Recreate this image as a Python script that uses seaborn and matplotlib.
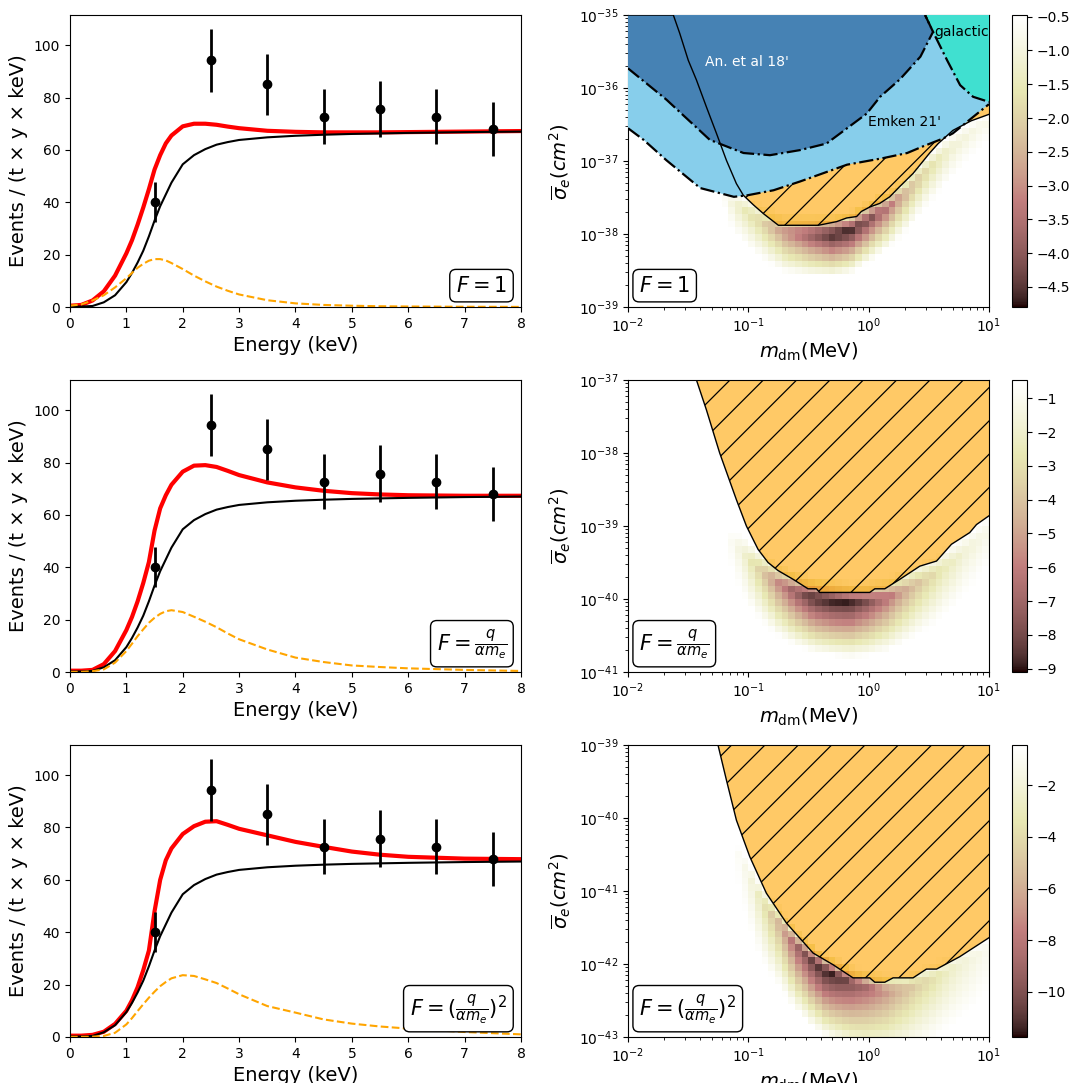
import numpy as np
import matplotlib
matplotlib.use("Agg")
import matplotlib.pyplot as plt
from matplotlib.colors import Normalize
from matplotlib.lines import Line2D
import seaborn as sns

# ---------------- left column: spectra ----------------
energy = [0.0, 0.2, 0.4, 0.6, 0.8, 1.0, 1.1, 1.2, 1.3, 1.4, 1.5, 1.6, 1.7, 1.8,
          2.0, 2.2, 2.4, 2.6, 2.8, 3.0, 3.5, 4.0, 4.5, 5.0, 5.5, 6.0, 7.0, 8.0]
background = [0.2, 0.2, 0.4, 1.8, 4.5, 9.5, 13.0, 17.0, 21.5, 27.0, 33.0, 38.5, 43.0, 47.5,
              54.5, 58.0, 60.3, 62.0, 63.0, 63.8, 64.8, 65.4, 65.8, 66.1, 66.3, 66.5, 66.8, 67.0]

signal_f1 = [0.5, 1.0, 2.5, 4.5, 7.5, 11.0, 13.0, 15.0, 16.5, 17.7, 18.3, 18.3, 17.8, 16.8,
             14.5, 12.0, 9.8, 7.8, 6.2, 4.8, 2.6, 1.4, 0.8, 0.5, 0.3, 0.2, 0.1, 0.05]
total_f1 = [0.5, 0.8, 2.5, 6.0, 12.0, 20.5, 25.5, 31.5, 38.0, 45.0, 52.5, 58.0, 62.5, 65.5,
            69.0, 70.0, 70.0, 69.6, 68.9, 68.3, 67.3, 66.9, 66.7, 66.7, 66.7, 66.8, 67.0, 67.2]

signal_f2 = [0.05, 0.05, 0.3, 1.0, 3.6, 8.0, 10.8, 13.7, 16.3, 18.8, 20.7, 22.2, 23.2, 23.6,
             22.9, 21.1, 19.2, 17.1, 14.7, 12.5, 8.6, 5.5, 3.8, 2.5, 1.9, 1.4, 0.8, 0.4]
total_f2 = [0.5, 0.5, 0.8, 3.0, 8.0, 16.0, 21.0, 27.0, 34.0, 42.0, 54.0, 62.5, 67.5, 71.5,
            76.5, 78.8, 79.0, 78.3, 76.8, 75.2, 72.4, 70.5, 69.2, 68.3, 67.8, 67.5, 67.3, 67.3]

signal_f3 = [0.05, 0.05, 0.1, 0.4, 1.6, 4.8, 7.2, 9.9, 12.5, 15.0, 17.3, 19.4, 21.0, 22.4,
             23.6, 23.3, 22.0, 20.6, 18.5, 16.3, 11.8, 9.3, 6.7, 5.1, 4.0, 3.2, 1.9, 1.0]
total_f3 = [0.5, 0.5, 0.8, 2.0, 5.0, 10.0, 14.0, 19.0, 25.5, 33.0, 48.0, 60.0, 67.5, 72.0,
            77.5, 80.5, 82.2, 82.4, 81.0, 79.5, 77.0, 74.5, 72.6, 70.8, 69.6, 68.8, 68.1, 67.9]

data_energy = [1.5, 2.5, 3.5, 4.5, 5.5, 6.5, 7.5]
data_rate = [40.1, 94.3, 85.0, 72.6, 75.7, 72.6, 68.0]
data_err = [7.6, 12.0, 11.5, 10.5, 10.8, 10.5, 10.3]

form_labels = [r"$F=1$", r"$F=\frac{q}{\alpha m_e}$", r"$F=(\frac{q}{\alpha m_e})^2$"]

# ---------------- right column: exclusion contours (log10 m, log10 sigma) ----------------
sig_top = [-35.0, -37.0, -39.0]
sig_bottom = [-39.0, -41.0, -43.0]

exc1_logm = [-2.0, -1.623, -1.57, -1.499, -1.431, -1.348, -1.265, -1.182, -1.099, -1.041, -0.958,
             -0.875, -0.75, -0.418, -0.266, -0.183, -0.10, -0.06, 0.009, 0.092, 0.175, 0.258,
             0.369, 0.507, 0.578, 0.70, 0.85, 1.0]
exc1_logsig = [-35.0, -35.0, -35.25, -35.62, -35.89, -36.26, -36.62, -36.99, -37.31, -37.47, -37.60,
               -37.72, -37.88, -37.88, -37.83, -37.78, -37.76, -37.69, -37.63, -37.58, -37.49, -37.35,
               -37.17, -36.89, -36.76, -36.58, -36.45, -36.36]

exc2_logm = [-2.0, -1.431, -1.348, -1.238, -1.099, -1.016, -0.919, -0.836, -0.753, -0.628, -0.504,
             -0.434, -0.407, 0.009, 0.051, 0.134, 0.259, 0.342, 0.425, 0.564, 0.688, 0.840, 0.896, 1.0]
exc2_logsig = [-37.0, -37.0, -37.41, -38.0, -38.64, -39.0, -39.32, -39.50, -39.61, -39.73, -39.86,
               -39.86, -39.91, -39.91, -39.86, -39.86, -39.73, -39.64, -39.55, -39.48, -39.25, -39.09,
               -38.98, -38.86]

exc3_logm = [-2.0, -1.252, -1.182, -1.099, -0.988, -0.850, -0.683, -0.462, -0.296, -0.130, 0.009,
             0.051, 0.134, 0.203, 0.369, 0.480, 0.564, 0.757, 1.0]
exc3_logsig = [-39.0, -39.0, -39.48, -40.03, -40.53, -41.03, -41.44, -41.85, -42.01, -42.19, -42.19,
               -42.25, -42.25, -42.19, -42.19, -42.07, -42.07, -41.90, -41.64]

# other experiments, F=1 panel only
an18_logm = [-2.0, -1.68, -1.32, -1.04, -0.82, -0.57, -0.35, -0.016, 0.095, 0.26, 0.43, 0.535, 0.469]
an18_logsig = [-35.73, -36.16, -36.71, -36.89, -36.92, -36.85, -36.76, -36.35, -36.12, -35.88,
               -35.57, -35.23, -35.0]
emken21_logm = [-2.0, -1.87, -1.68, -1.40, -1.12, -1.01, -0.79, -0.57, -0.18, 0.12, 0.32, 0.45,
                0.62, 0.70, 0.85, 1.0]
emken21_logsig = [-36.55, -36.71, -36.99, -37.37, -37.49, -37.47, -37.40, -37.28, -37.05, -36.96,
                  -36.89, -36.80, -36.69, -36.62, -36.42, -36.22]
galactic_logm = [0.469, 0.535, 0.652, 0.76, 0.868, 1.0]
galactic_logsig = [-35.0, -35.23, -35.62, -35.96, -36.12, -36.19]

# likelihood band: ridge position and depth read per mass knot
band1_logm = [-1.25, -1.1, -0.9, -0.7, -0.5, -0.3, -0.15, 0.0, 0.15, 0.3, 0.5, 0.7, 0.9, 1.0]
band1_ridge = [-37.45, -37.6, -37.82, -37.97, -38.0, -38.0, -37.95, -37.8, -37.65, -37.45, -37.1,
               -36.8, -36.55, -36.45]
band1_depth = [-0.3, -1.3, -2.0, -3.0, -3.9, -4.8, -4.7, -4.2, -3.5, -2.6, -1.8, -1.2, -0.9, -0.8]

band2_logm = [-1.2, -1.05, -0.9, -0.75, -0.6, -0.45, -0.3, -0.15, 0.0, 0.15, 0.3, 0.45, 0.6, 0.8, 1.0]
band2_ridge = [-39.1, -39.35, -39.6, -39.78, -39.9, -39.98, -40.02, -40.05, -40.03, -39.98, -39.88,
               -39.75, -39.6, -39.35, -39.05]
band2_depth = [-0.3, -1.8, -3.8, -5.8, -7.5, -8.8, -9.1, -8.9, -7.8, -6.5, -5.0, -3.8, -2.8, -1.8, -1.2]

band3_logm = [-1.15, -1.0, -0.9, -0.75, -0.6, -0.45, -0.35, -0.25, -0.15, 0.0, 0.15, 0.3, 0.5, 0.7,
              0.9, 1.0]
band3_ridge = [-40.3, -40.75, -41.1, -41.42, -41.75, -41.98, -42.1, -42.17, -42.25, -42.32, -42.36,
               -42.34, -42.22, -42.05, -41.88, -41.78]
band3_depth = [-0.3, -1.6, -3.2, -5.8, -9.0, -11.0, -11.74, -11.2, -10.2, -8.6, -7.0, -5.5, -4.0,
               -2.6, -1.6, -1.2]

band_width = [(0.66, 0.3), (0.8, 0.3), (0.95, 0.25)]
color_range = [(-4.8, -0.475), (-9.1, -0.46), (-11.74, -0.45)]


def band_grid(knots, ridge, depth, widths, lo, hi, vmax):
    xe = np.linspace(-2, 1, 55)
    ye = np.linspace(lo, hi, 45)
    xc = 0.5 * (xe[1:] + xe[:-1])
    yc = 0.5 * (ye[1:] + ye[:-1])
    c = np.interp(xc, knots, ridge)
    d = np.interp(xc, knots, depth)
    dy = yc[:, None] - c[None, :]
    w = np.where(dy < 0, widths[0], widths[1])
    z = d[None, :] * np.clip(1 - np.abs(dy) / w, 0, None)
    return 10 ** xe, 10 ** ye, np.ma.masked_greater(z, vmax)


fig = plt.figure(figsize=(10.7, 10.83), dpi=100)
row_bottom = [0.7165, 0.3795, 0.0425]
height = 0.2696

spectra = [(signal_f1, total_f1), (signal_f2, total_f2), (signal_f3, total_f3)]
exclusions = [(exc1_logm, exc1_logsig), (exc2_logm, exc2_logsig), (exc3_logm, exc3_logsig)]
bands = [(band1_logm, band1_ridge, band1_depth), (band2_logm, band2_ridge, band2_depth),
         (band3_logm, band3_ridge, band3_depth)]

box = dict(boxstyle="round,pad=0.3", fc="white", ec="black")


def add_hatch(ax, patch):
    # '/' hatch, 3 lines per inch, clipped to the excluded region
    for k in range(-40, 40):
        x0 = 0.27 + k / 3
        ln = Line2D([x0, x0 + 12], [0, 12], color="black", lw=0.9,
                    transform=fig.dpi_scale_trans, zorder=2.5)
        ax.add_artist(ln)
        ln.set_clip_path(patch)


for i in range(3):
    b = row_bottom[i]
    # ---- spectrum ----
    ax = fig.add_axes([0.0654, b, 0.4215, height])
    sig, tot = spectra[i]
    sns.lineplot(x=energy, y=tot, ax=ax, color="red", lw=3)
    sns.lineplot(x=energy, y=background, ax=ax, color="black", lw=1.5)
    sns.lineplot(x=energy, y=sig, ax=ax, color="orange", lw=1.5, linestyle="--")
    ax.errorbar(data_energy, data_rate, yerr=data_err, fmt="o", color="black",
                ms=6, elinewidth=2, capsize=0, zorder=5)
    ax.set_xlim(0, 8)
    ax.set_ylim(0, 111.5)
    ax.set_xlabel("Energy (keV)", fontsize=14)
    ax.set_ylabel("Events / (t × y × keV)", fontsize=14)
    ax.tick_params(labelsize=10)
    ax.text(0.969, 0.039, form_labels[i], transform=ax.transAxes, ha="right", va="bottom",
            fontsize=15, bbox=box, zorder=10)

    # ---- parameter space ----
    ax = fig.add_axes([0.5869, b, 0.3374, height])
    cax = fig.add_axes([0.9458, b, 0.0136, height])
    vmin, vmax = color_range[i]
    knots, ridge, depth = bands[i]
    xe, ye, z = band_grid(knots, ridge, depth, band_width[i], sig_bottom[i], sig_top[i], vmax)
    mesh = ax.pcolormesh(xe, ye, z, cmap="pink", norm=Normalize(vmin, vmax), zorder=1)
    cb = fig.colorbar(mesh, cax=cax)
    cb.ax.tick_params(labelsize=10)

    lm, ls = exclusions[i]
    px = 10 ** np.array(lm + [1.0])
    py = 10 ** np.array(ls + [sig_top[i]])
    poly = ax.fill(px, py, color="orange", alpha=0.6, lw=0, zorder=2)[0]
    add_hatch(ax, poly)
    ax.plot(10 ** np.array(lm), 10 ** np.array(ls), color="black", lw=1, zorder=6)

    if i == 0:
        top = sig_top[0]
        ex = 10 ** np.array(emken21_logm + [1.0, -2.0])
        ey = 10 ** np.array(emken21_logsig + [top, top])
        ax.fill(ex, ey, color="skyblue", lw=0, zorder=2.8)
        ax.plot(10 ** np.array(emken21_logm), 10 ** np.array(emken21_logsig),
                color="black", lw=1.6, ls="-.", zorder=4)
        ax_ = 10 ** np.array(an18_logm + [-2.0])
        ay = 10 ** np.array(an18_logsig + [top])
        ax.fill(ax_, ay, color="steelblue", lw=0, zorder=3)
        ax.plot(10 ** np.array(an18_logm), 10 ** np.array(an18_logsig),
                color="black", lw=1.6, ls="-.", zorder=4)
        gx = 10 ** np.array(galactic_logm + [1.0])
        gy = 10 ** np.array(galactic_logsig + [top])
        ax.fill(gx, gy, color="turquoise", lw=0, zorder=3.2)
        ax.plot(10 ** np.array(galactic_logm), 10 ** np.array(galactic_logsig),
                color="black", lw=1.6, ls="-.", zorder=4)
        ax.text(10 ** -1.015, 10 ** -35.64, "An. et al 18'", color="white", fontsize=10,
                ha="center", va="center", zorder=7)
        ax.text(10 ** 0.30, 10 ** -36.46, "Emken 21'", color="black", fontsize=10,
                ha="center", va="center", zorder=7)
        ax.text(10 ** 0.773, 10 ** -35.23, "galactic", color="black", fontsize=10,
                ha="center", va="center", zorder=7)

    ax.set_xscale("log")
    ax.set_yscale("log")
    ax.set_xlim(1e-2, 10)
    ax.set_ylim(10 ** sig_bottom[i], 10 ** sig_top[i])
    ax.set_xlabel(r"$m_{\rm dm}$(MeV)", fontsize=14)
    ax.set_ylabel(r"$\overline{\sigma}_e(cm^2)$", fontsize=14)
    ax.tick_params(labelsize=10)
    ax.text(0.031, 0.039, form_labels[i], transform=ax.transAxes, ha="left", va="bottom",
            fontsize=15, bbox=box, zorder=10)

fig.savefig("out.png", dpi=100)
